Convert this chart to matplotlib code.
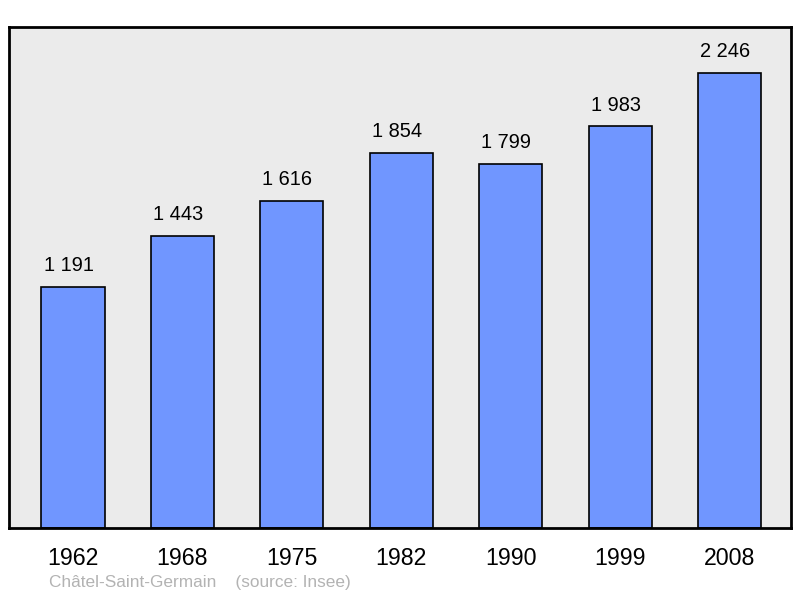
import matplotlib.pyplot as plt

years = ['1962', '1968', '1975', '1982', '1990', '1999', '2008']
population = [1191, 1443, 1616, 1854, 1799, 1983, 2246]
labels = ['1 191', '1 443', '1 616', '1 854', '1 799', '1 983', '2 246']

plt.rcParams['font.family'] = ['Liberation Sans', 'DejaVu Sans']

fig = plt.figure(figsize=(8, 5.98), dpi=100)
ax = fig.add_axes([9 / 800, 1 - 528 / 598, 782 / 800, 501 / 598])
ax.set_facecolor('#ebebeb')

x = range(len(years))
ax.bar(x, population, width=0.576, color='#7096ff', edgecolor='black', linewidth=1.2)

# value labels sit a touch left of the bar centre in the original
for xi, v, lab in zip(x, population, labels):
    ax.text(xi - 0.04, v + 58, lab, ha='center', va='bottom', fontsize=14.4)

ax.set_xlim(-0.585, 6.562)
ax.set_ylim(0, 2474)
ax.set_yticks([])
ax.set_xticks(list(x))
ax.set_xticklabels(years, fontsize=16.7)
ax.tick_params(axis='x', length=0, pad=14)
for s in ax.spines.values():
    s.set_linewidth(2)

fig.text(49 / 800, 1 - 583 / 598, 'Châtel-Saint-Germain    (source: Insee)',
         fontsize=12.4, color='#b3b3b3', va='center', ha='left')

fig.savefig('out.png', dpi=100)
